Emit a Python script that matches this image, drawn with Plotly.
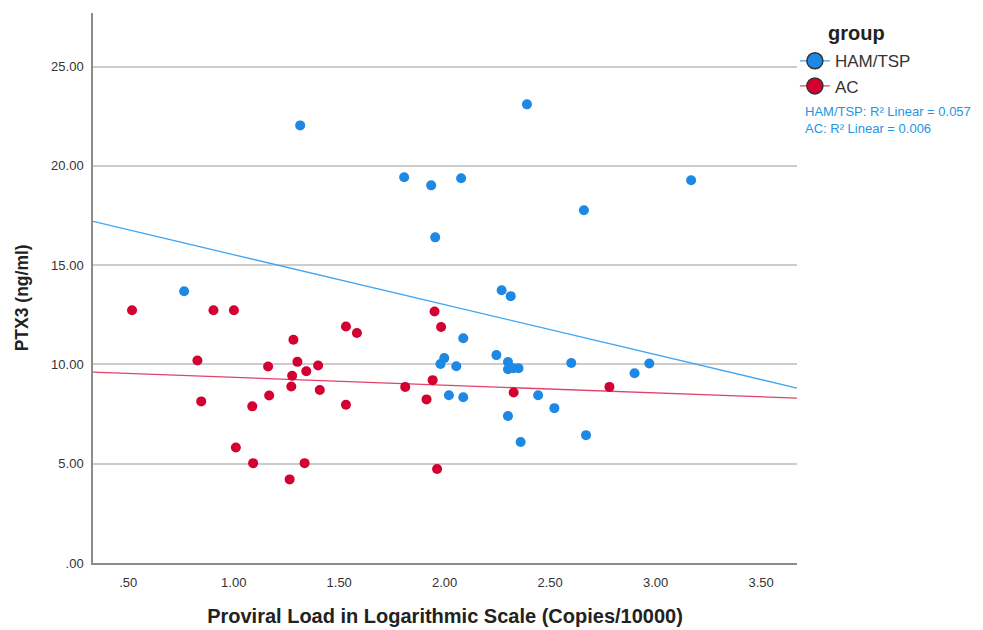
import plotly.graph_objects as go
import numpy as np

# HAM/TSP group
ham_x = [0.765, 1.315, 2.39, 1.808, 1.936, 2.078, 3.168, 1.955, 2.66, 2.27,
         2.313, 2.088, 2.245, 1.998, 1.98, 2.055, 2.30, 2.30, 2.325, 2.35,
         2.60, 2.97, 2.90, 2.02, 2.088, 2.443, 2.52, 2.30, 2.36, 2.67]
ham_y = [13.69, 22.04, 23.1, 19.43, 19.02, 19.38, 19.28, 16.4, 17.77, 13.74,
         13.44, 11.32, 10.47, 10.32, 10.02, 9.91, 10.12, 9.76, 9.81, 9.81,
         10.07, 10.05, 9.56, 8.45, 8.35, 8.45, 7.8, 7.4, 6.09, 6.44]

# AC group
ac_x = [0.518, 0.904, 1.001, 0.828, 1.283, 1.532, 1.584, 1.163, 1.302, 1.344,
        1.400, 1.277, 1.273, 1.168, 1.408, 0.846, 1.088, 1.532, 1.010, 1.092,
        1.336, 1.265, 1.952, 1.983, 1.813, 1.943, 1.914, 2.327, 2.781, 1.964]
ac_y = [12.73, 12.73, 12.73, 10.20, 11.24, 11.91, 11.58, 9.90, 10.13, 9.66,
        9.95, 9.43, 8.89, 8.44, 8.71, 8.14, 7.89, 7.97, 5.82, 5.03,
        5.03, 4.21, 12.67, 11.89, 8.87, 9.21, 8.24, 8.59, 8.87, 4.73]

# Fit lines (intercept, slope)
ham_fit = (18.04, -2.515)
ac_fit = (9.74, -0.392)
ham_r2 = 0.057
ac_r2 = 0.006

x_range = [0.333, 3.67]
y_range = [0, 27.7]

x_ticks = [0.5, 1.0, 1.5, 2.0, 2.5, 3.0, 3.5]
x_ticktext = [".50", "1.00", "1.50", "2.00", "2.50", "3.00", "3.50"]
y_ticks = [0, 5, 10, 15, 20, 25]
y_ticktext = [".00", "5.00", "10.00", "15.00", "20.00", "25.00"]

BLUE = "#1e88e5"
RED = "#d50032"
BLUE_LINE = "#42a5f0"
RED_LINE = "#e0436a"
FONT = "Liberation Sans, Arial, sans-serif"

fig = go.Figure()

lx = np.array(x_range)
fig.add_trace(go.Scatter(x=lx, y=ham_fit[0] + ham_fit[1] * lx, mode="lines",
                         line=dict(color=BLUE_LINE, width=1.3), showlegend=False,
                         hoverinfo="skip"))
fig.add_trace(go.Scatter(x=lx, y=ac_fit[0] + ac_fit[1] * lx, mode="lines",
                         line=dict(color=RED_LINE, width=1.3), showlegend=False,
                         hoverinfo="skip"))

fig.add_trace(go.Scatter(x=ham_x, y=ham_y, mode="markers", name="HAM/TSP",
                         marker=dict(color=BLUE, size=10), showlegend=False))
fig.add_trace(go.Scatter(x=ac_x, y=ac_y, mode="markers", name="AC",
                         marker=dict(color=RED, size=10), showlegend=False))

# legend entries
fig.add_trace(go.Scatter(x=[None], y=[None], mode="lines+markers", name="HAM/TSP",
                         line=dict(color=BLUE_LINE, width=1.3),
                         marker=dict(color=BLUE, size=16, line=dict(color="#333333", width=1.5))))
fig.add_trace(go.Scatter(x=[None], y=[None], mode="lines+markers", name="AC",
                         line=dict(color=RED_LINE, width=1.3),
                         marker=dict(color=RED, size=16, line=dict(color="#333333", width=1.5))))

fig.update_layout(
    width=983, height=630,
    margin=dict(l=85, r=194, t=5, b=75),
    paper_bgcolor="white", plot_bgcolor="white",
    font=dict(family=FONT, color="#333333", size=13),
    legend=dict(
        x=0.997, y=0.945, xanchor="left", yanchor="top",
        font=dict(size=17, color="#333333"),
        itemsizing="trace", tracegroupgap=0,
        bgcolor="rgba(0,0,0,0)",
    ),
    xaxis=dict(
        range=x_range, tickvals=x_ticks, ticktext=x_ticktext,
        showgrid=False, zeroline=False,
        showline=True, linecolor="#8c8c8c", linewidth=1.5,
        ticks="", ticklabelstandoff=7, tickfont=dict(size=13, color="#333333"),
        title=dict(text="<b>Proviral Load in Logarithmic Scale (Copies/10000)</b>",
                   font=dict(size=20, color="#222222"), standoff=20),
    ),
    yaxis=dict(
        range=y_range, tickvals=y_ticks, ticktext=y_ticktext,
        showgrid=True, gridcolor="#cccccc", gridwidth=1.5, zeroline=False,
        showline=True, linecolor="#8c8c8c", linewidth=1.5,
        ticks="", ticklabelstandoff=5, tickfont=dict(size=13, color="#333333"),
    ),
    annotations=[
        dict(xref="paper", yref="paper", x=-0.1009, y=0.483, xanchor="center", yanchor="middle",
             showarrow=False, text="<b>PTX3 (ng/ml)</b>", textangle=-90,
             font=dict(size=17.5, color="#222222", family=FONT)),
        dict(xref="paper", yref="paper", x=1.041, y=0.9637, xanchor="left", yanchor="middle",
             showarrow=False, text="<b>group</b>",
             font=dict(size=20, color="#222222", family=FONT)),
        dict(xref="paper", yref="paper", x=1.0085, y=0.838, xanchor="left", yanchor="top",
             align="left", showarrow=False,
             text=f"HAM/TSP: R² Linear = {ham_r2:.3f}<br>AC: R² Linear = {ac_r2:.3f}",
             font=dict(size=13, color="#2196e8", family=FONT)),
    ],
)

fig.write_html("out.html")
